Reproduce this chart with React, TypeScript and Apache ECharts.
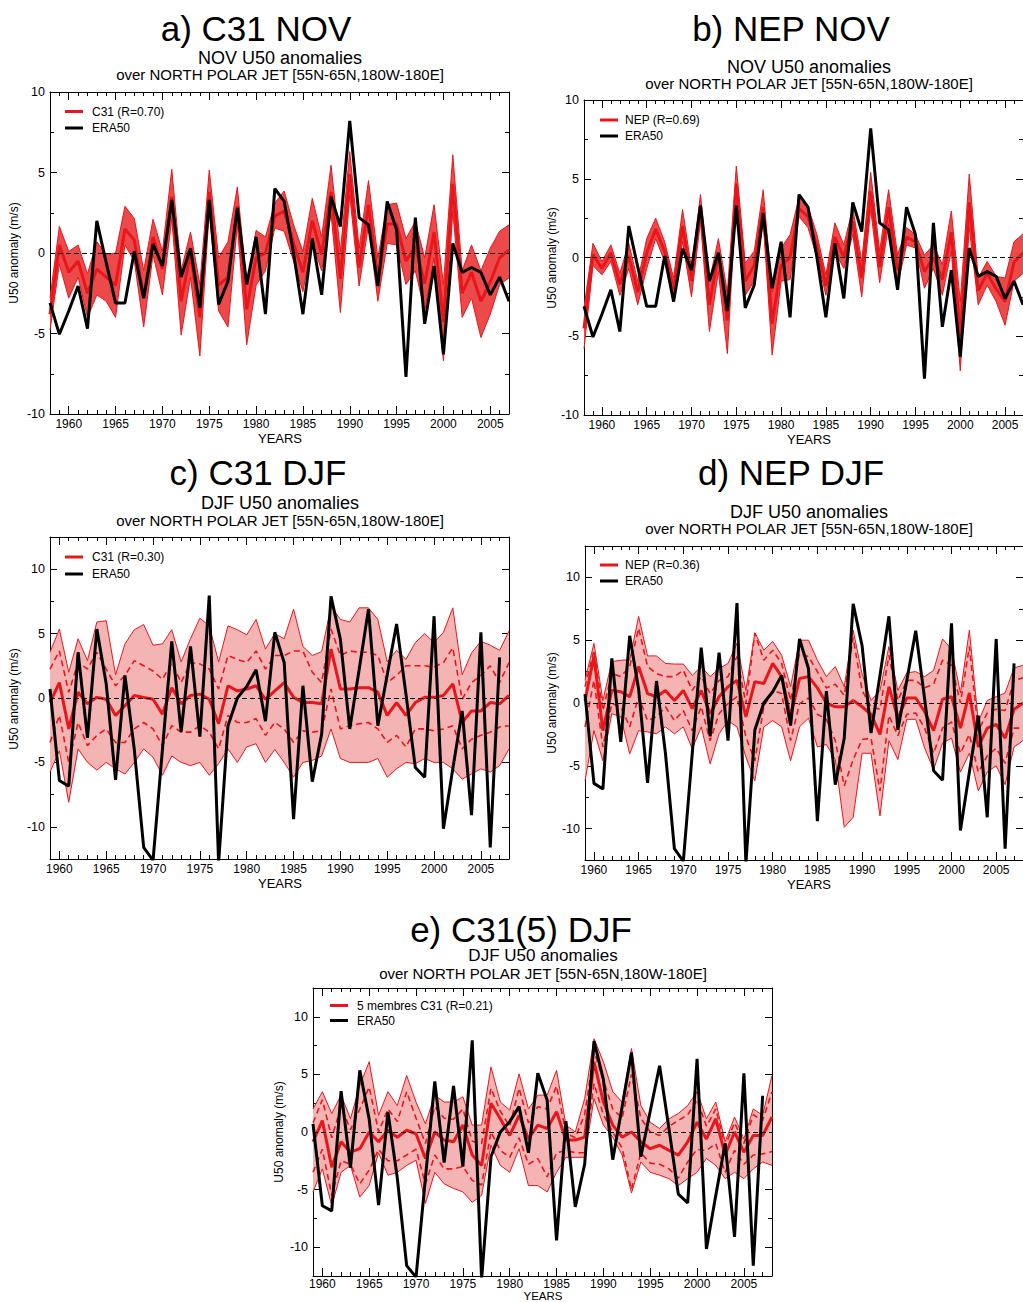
import React, { useEffect, useRef } from 'react';
import * as echarts from 'echarts';

const FONT = '"Liberation Sans", Arial, Helvetica, sans-serif';
const RED = '#e8161b';

function yearRange(start: number, n: number): number[] {
  const a: number[] = [];
  for (let i = 0; i < n; i++) a.push(start + i);
  return a;
}
const YEARS_NOV = yearRange(1958, 50);
const YEARS_DJF = yearRange(1959, 50);
const X_LABELS = [1960, 1965, 1970, 1975, 1980, 1985, 1990, 1995, 2000, 2005];
const Y_LABELS = [-10, -5, 0, 5, 10];

// ERA50 reanalysis
const ERA_NOV = [-3.1, -5.05, -3.6, -2.05, -4.7, 2.0, -0.6, -3.1, -3.1, 0.1, -2.8, 0.55, -0.8, 3.3, -1.5, 0.3, -3.4, 3.3, -3.2, -1.75, 2.8, -1.95, 1.0, -3.8, 4.0, 3.2, 0.0, -3.8, 0.9, -2.6, 3.5, 1.65, 8.2, 2.2, 1.75, -2.05, 3.2, 1.45, -7.7, 2.2, -4.4, -0.8, -6.3, 0.6, -1.2, -0.9, -1.2, -2.6, -1.5, -3.0];
const ERA_DJF = [0.7, -6.4, -6.85, 3.55, -3.1, 5.35, 1.1, -6.35, 1.75, -4.0, -11.6, -12.6, -4.0, 4.4, -2.65, 4.0, -3.0, 7.95, -12.8, -2.15, 0.0, 0.9, 2.2, -1.8, 5.1, 2.75, -9.4, 0.95, -6.5, -2.8, 7.9, 4.55, -2.4, 2.2, 6.9, -2.15, 1.8, 5.75, 0.3, -5.4, -6.15, 6.35, -10.15, -5.5, -1.0, -9.1, 5.1, -11.6, 3.15, null];

// a) C31 NOV
const A_UP = [-2.8, 1.65, 0.1, 0.5, -1.3, 0.7, -0.1, 0.0, 2.9, 2.15, -1.1, 2.1, 0.1, 5.2, -1.1, 1.3, -1.95, 5.15, -0.3, 0.7, 4.1, -1.95, 1.4, 1.0, 3.1, 3.85, 1.75, 0.1, 3.4, 1.0, 5.45, 0.1, 6.3, 0.3, 4.5, -0.3, 3.0, 3.1, 0.9, 1.95, -0.3, 3.0, -1.95, 6.1, -1.1, 0.5, -1.1, 0.3, 1.35, 1.75];
const A_LO = [-4.8, -0.7, -2.8, -1.5, -4.0, -2.6, -3.0, -4.0, 0.5, -0.5, -4.6, -0.1, -2.6, 2.1, -5.1, -1.5, -6.4, 2.6, -3.6, -4.6, 1.75, -5.7, -2.0, -1.1, 1.55, 1.35, -0.5, -2.4, 0.7, -1.1, 2.45, -3.7, 3.6, -2.05, 1.75, -3.0, 0.6, 0.5, -1.95, -1.1, -3.6, -0.3, -6.7, 2.6, -4.0, -2.8, -5.25, -3.8, -1.95, -1.55];
const A_MEAN = [-3.8, 0.5, -1.2, -0.5, -2.5, -1.0, -1.5, -2.0, 1.5, 0.8, -2.8, 1.0, -1.0, 3.5, -3.0, 0.0, -4.0, 3.8, -2.0, -1.5, 2.9, -3.5, -0.3, 0.0, 2.3, 2.6, 0.6, -1.2, 2.0, -0.1, 3.8, -1.6, 4.9, -0.9, 3.0, -1.6, 1.8, 1.8, -0.5, 0.4, -1.9, 1.3, -4.3, 4.3, -2.5, -1.2, -3.0, -1.8, -0.3, 0.2];

// b) NEP NOV
const B_UP = [-3.2, 0.9, -0.25, 0.8, -1.0, 0.9, -1.5, 1.2, 2.5, 1.0, -1.3, 3.05, -0.7, 4.0, -1.5, 1.2, -2.2, 5.8, -0.35, 0.4, 4.3, -2.2, 0.6, 1.45, 3.8, 3.25, 1.45, -1.1, 2.2, 0.8, 3.15, -0.25, 5.4, 0.4, 4.3, 0.15, 1.9, 1.45, 0.15, 0.8, -0.45, 2.95, -2.8, 5.3, -1.3, -0.25, -1.2, -1.3, 1.0, 1.5];
const B_LO = [-5.8, -0.5, -1.1, -0.25, -2.4, -0.7, -3.0, -0.7, 1.2, -0.25, -2.8, 1.0, -2.5, 2.3, -4.7, -0.9, -6.1, 3.8, -2.4, -1.5, 2.3, -6.2, -1.5, -1.4, 2.6, 1.9, 0.0, -2.4, 0.4, -0.7, 1.45, -2.5, 3.05, -1.6, 2.1, -1.75, 0.8, 0.6, -1.95, -0.7, -2.4, 0.4, -7.2, 1.9, -3.0, -1.75, -2.8, -4.3, -1.5, -1.0];
const B_MEAN = [-4.5, 0.2, -0.7, 0.3, -1.7, 0.1, -2.2, 0.3, 1.8, 0.4, -2.0, 2.0, -1.5, 3.1, -3.0, 0.2, -4.0, 4.7, -1.5, -0.5, 3.2, -4.2, -0.5, 0.0, 3.1, 2.6, 0.7, -1.8, 1.3, 0.0, 2.3, -1.3, 4.2, -0.6, 3.2, -0.8, 1.3, 1.0, -0.9, 0.0, -1.4, 1.6, -5.0, 3.5, -2.1, -1.0, -2.0, -2.8, -0.3, 0.3];

// c) C31 DJF
const C_UP = [3.55, 5.35, 2.0, 4.6, 2.9, 5.9, 6.0, 1.8, 4.2, 5.3, 5.7, 4.1, 4.2, 5.3, 2.8, 4.6, 6.2, 5.6, 2.8, 5.6, 5.3, 4.9, 6.1, 3.8, 5.0, 4.6, 6.9, 4.0, 3.3, 3.6, 7.1, 6.1, 5.9, 7.0, 7.0, 6.1, 2.8, 3.7, 3.0, 4.3, 5.0, 4.3, 5.1, 7.0, 1.8, 3.5, 4.4, 4.1, 3.7, 5.2];
const C_LO = [-5.75, -4.1, -8.1, -3.95, -5.0, -5.6, -5.0, -5.5, -5.9, -5.0, -3.95, -4.6, -6.0, -4.5, -5.0, -5.25, -5.0, -6.0, -5.1, -3.95, -5.0, -3.8, -3.55, -5.0, -4.0, -5.0, -6.15, -5.0, -4.85, -4.5, -2.4, -4.7, -5.0, -5.0, -5.0, -4.7, -6.15, -5.5, -5.0, -5.1, -4.7, -5.0, -5.0, -5.5, -6.3, -5.9, -5.5, -5.75, -5.25, -3.95];
const C_DU = [2.25, 3.65, 0.45, 2.75, 2.25, 3.55, 2.25, 0.95, 1.75, 2.9, 2.5, 2.1, 1.45, 2.75, 1.2, 2.75, 2.65, 2.25, 0.7, 3.3, 3.0, 2.75, 3.65, 2.25, 3.3, 3.3, 3.65, 3.65, 2.0, 1.2, 5.35, 3.3, 3.65, 3.55, 3.55, 3.3, 1.2, 1.75, 2.5, 2.5, 2.5, 2.4, 2.75, 3.9, -0.1, 1.2, 1.75, 2.5, 1.2, 2.75];
const C_DL = [-3.45, -1.35, -5.0, -1.9, -3.7, -2.9, -2.4, -3.45, -3.45, -2.4, -1.9, -2.4, -3.7, -2.15, -2.65, -2.65, -2.15, -2.65, -3.95, -1.35, -1.9, -1.9, -1.6, -2.9, -1.9, -2.4, -3.45, -2.55, -2.65, -2.55, 0.7, -2.4, -2.15, -2.0, -1.9, -2.4, -3.45, -2.9, -3.8, -2.4, -2.4, -2.55, -2.4, -2.15, -3.95, -3.2, -2.9, -2.65, -2.25, -2.15];
const C_MEAN = [-0.35, 1.2, -2.4, 0.45, -0.45, 0.05, -0.1, -1.35, -0.6, 0.2, 0.05, -0.1, -1.25, 0.8, -0.45, 0.2, 0.3, -0.1, -2.0, 0.95, 0.55, 0.7, 0.95, -0.1, 0.55, 1.2, 0.05, -0.35, -0.35, -0.45, 3.8, 0.7, 0.7, 0.8, 0.8, 0.45, -1.35, -0.35, -1.35, -0.35, 0.05, 0.05, 0.2, 1.1, -1.9, -1.0, -1.0, -0.35, -0.45, 0.2];

// d) NEP DJF
const D_UP = [1.8, 4.75, 0.2, 3.3, 3.4, 3.45, 6.9, 3.75, 3.75, 3.15, 3.1, 3.1, 2.2, 2.9, 2.1, 2.75, 3.15, 4.75, 1.0, 5.6, 4.2, 4.9, 3.8, 1.3, 5.0, 5.0, 3.4, 2.1, 2.9, 1.3, 5.8, 2.3, 0.2, 1.0, 4.5, 1.0, 2.4, 2.5, 2.1, 2.6, 5.1, 4.3, 0.8, 5.8, -1.5, 0.2, 0.5, 0.8, 2.8, 3.0];
const D_LO = [-6.2, -2.2, -4.6, -0.85, -1.1, -4.05, -2.2, -2.3, -2.45, -1.9, -2.45, -1.9, -3.65, -1.9, -4.85, -2.45, -1.4, -1.9, -4.3, -6.2, -1.9, -1.4, -1.9, -4.6, -1.9, -1.2, -3.5, -3.3, -4.5, -9.9, -9.1, -4.0, -4.0, -9.0, -3.0, -4.5, -1.3, -1.3, -3.6, -5.3, -3.2, -2.8, -5.5, -4.0, -7.0, -5.5, -5.0, -6.5, -3.5, -3.0];
const D_DU = [1.3, 4.2, -0.6, 2.35, 2.1, 2.9, 5.95, 2.9, 2.35, 2.1, 2.1, 2.6, 1.0, 2.1, 0.75, 1.8, 2.1, 3.7, -0.05, 5.55, 3.4, 4.2, 3.15, 0.2, 3.95, 3.7, 2.5, 1.2, 1.5, 0.6, 5.2, 1.0, -0.3, -0.5, 3.8, 0.2, 1.8, 1.8, 1.2, 1.5, 3.4, 3.0, 0.0, 4.5, -2.2, -0.8, -0.5, -0.6, 1.8, 2.0];
const D_DL = [-1.9, 1.8, -3.5, -0.05, -0.3, -1.9, 0.5, -1.4, -1.1, -0.3, -1.4, -0.6, -2.2, -0.3, -3.0, -0.85, -0.05, 0.5, -2.7, -4.6, -0.3, 1.0, 0.75, -3.0, -0.05, 0.4, -0.9, -1.3, -3.0, -6.6, -4.5, -2.9, -2.8, -7.0, -1.0, -2.6, -0.9, -0.8, -2.0, -4.0, -2.0, -1.5, -4.0, -2.5, -5.5, -4.2, -3.6, -4.8, -2.0, -2.0];
const D_MEAN = [0.2, 3.7, -2.2, 1.0, 0.9, 0.5, 2.9, 0.75, 0.5, 1.0, 0.2, 1.0, -0.45, 1.0, -0.85, 0.5, 1.3, 1.8, -1.1, 1.7, 1.55, 3.15, 2.1, -1.1, 1.95, 2.1, 1.2, 0.0, -0.3, -0.3, 0.2, -0.3, -0.9, -2.5, 1.3, -1.2, 0.4, 0.4, -0.7, -2.2, 0.3, 0.5, -2.0, 0.8, -3.5, -2.0, -1.7, -2.8, -0.5, 0.0];

// e) C31(5) DJF
const E_UP = [2.0, 3.5, 1.6, 3.2, 1.15, 4.05, 6.1, 1.45, 3.5, 2.3, 4.9, 2.6, 0.7, 3.2, 2.6, 2.6, 3.05, 0.6, 0.6, 5.65, 2.6, 1.9, 5.05, 2.0, 3.2, 3.2, 5.35, 0.6, 0.0, 2.9, 8.1, 6.1, 3.5, 2.6, 7.25, 2.3, 0.85, 0.3, 1.15, 1.6, 2.3, 3.5, 1.15, 2.6, -0.85, 1.3, -0.6, 2.0, 1.45, 4.9];
const E_LO = [-5.2, -3.2, -6.4, -3.5, -2.9, -5.65, -4.65, -1.8, -3.75, -3.5, -2.9, -2.45, -6.2, -3.5, -4.5, -4.9, -5.2, -6.1, -5.5, -1.15, -2.9, -3.5, -1.45, -4.65, -4.65, -5.2, -3.5, -2.2, -2.2, -2.2, 2.9, 0.6, -0.45, -2.0, -5.3, -2.6, -3.5, -3.75, -4.05, -4.65, -4.05, -3.5, -2.3, -2.9, -4.05, -3.5, -4.05, -3.2, -2.6, -2.9];
const E_DU = [0.8, 2.8, -0.5, 2.2, 0.2, 2.0, 3.9, 0.0, 2.0, 0.9, 3.5, 1.2, -1.0, 2.2, 1.2, 1.1, 2.0, -0.8, -1.0, 3.8, 1.8, 0.5, 3.8, 0.8, 2.2, 2.0, 4.0, -0.1, -0.5, 1.5, 7.0, 4.5, 2.0, 1.2, 5.0, 1.2, 0.0, -0.3, 0.5, 1.0, 1.5, 2.8, 0.5, 2.0, -1.2, 0.8, -1.0, 1.5, 1.0, 3.5];
const E_DL = [-3.5, -1.5, -5.5, -2.5, -2.8, -4.5, -3.3, -1.5, -2.5, -2.5, -2.0, -1.5, -4.5, -2.0, -3.2, -3.2, -3.0, -4.2, -4.6, 0.0, -1.6, -2.2, -0.5, -2.8, -2.3, -3.9, -1.8, -1.6, -1.8, -1.8, 4.2, 1.5, 0.0, -1.4, -5.0, -1.8, -2.7, -2.8, -3.2, -4.0, -2.6, -1.5, -1.6, -1.0, -3.5, -1.6, -2.8, -2.0, -1.9, -1.7];
const E_MEAN = [-0.85, 1.0, -3.05, -0.85, -1.75, -1.45, 0.0, -0.85, 0.15, -0.45, 0.15, -0.15, -2.3, 0.0, -0.7, -0.85, 0.6, -2.0, -2.9, 2.5, 1.15, -0.3, 1.45, -0.6, 0.6, 0.3, 1.75, -0.7, -0.7, -0.45, 6.1, 2.6, 0.6, -0.45, 0.0, -0.85, -1.45, -1.15, -1.6, -2.0, -0.85, 0.85, -0.6, 1.15, -2.0, 0.0, -1.75, -0.3, -0.3, 1.3];

type Panel = {
  grid: { left: number; top: number; width: number; height: number };
  xMin: number; xMax: number; yMin: number; yMax: number;
  years: number[]; era: (number | null)[];
  up: number[]; lo: number[]; mean: number[]; du?: number[]; dl?: number[];
  band: string;
  title: string; sub1: string; legend: string;
  titlePos: [number, number]; sub1Pos: [number, number]; sub2Pos: [number, number];
  sub1Size: number;
  yearsPos: [number, number]; yNamePos: [number, number]; yearsSize: number; xLabelMargin: number;
  legX: number; legTextX: number; legY1: number; legY2: number;
};

const SUB2 = 'over NORTH POLAR JET [55N-65N,180W-180E]';

const PANELS: Panel[] = [
  {
    grid: { left: 50, top: 92, width: 459, height: 322 }, xMin: 1958, xMax: 2007, yMin: -10, yMax: 10,
    years: YEARS_NOV, era: ERA_NOV, up: A_UP, lo: A_LO, mean: A_MEAN, band: '#ec4a4a',
    title: 'a) C31 NOV', sub1: 'NOV U50 anomalies', legend: 'C31 (R=0.70)',
    titlePos: [256, 28], sub1Pos: [280, 58], sub2Pos: [280, 74], sub1Size: 18, yearsPos: [280, 438], yNamePos: [14, 253],
    yearsSize: 13, xLabelMargin: 4,
    legX: 65, legTextX: 92, legY1: 111.5, legY2: 128,
  },
  {
    grid: { left: 584, top: 100, width: 449, height: 315 }, xMin: 1958, xMax: 2007, yMin: -10, yMax: 10,
    years: YEARS_NOV, era: ERA_NOV, up: B_UP, lo: B_LO, mean: B_MEAN, band: '#ec4a4a',
    title: 'b) NEP NOV', sub1: 'NOV U50 anomalies', legend: 'NEP (R=0.69)',
    titlePos: [791, 28], sub1Pos: [809, 67], sub2Pos: [809, 83], sub1Size: 18, yearsPos: [809, 439], yNamePos: [552, 258],
    yearsSize: 13, xLabelMargin: 4,
    legX: 600, legTextX: 625, legY1: 120, legY2: 136,
  },
  {
    grid: { left: 50, top: 537, width: 459, height: 322 }, xMin: 1959, xMax: 2008, yMin: -12.5, yMax: 12.5,
    years: YEARS_DJF, era: ERA_DJF, up: C_UP, lo: C_LO, mean: C_MEAN, du: C_DU, dl: C_DL, band: '#f5b4b4',
    title: 'c) C31 DJF', sub1: 'DJF U50 anomalies', legend: 'C31 (R=0.30)',
    titlePos: [258, 472], sub1Pos: [280, 503], sub2Pos: [280, 520], sub1Size: 18, yearsPos: [280, 883], yNamePos: [14, 699],
    yearsSize: 13, xLabelMargin: 4,
    legX: 65, legTextX: 92, legY1: 557, legY2: 574,
  },
  {
    grid: { left: 585, top: 546, width: 448, height: 314 }, xMin: 1959, xMax: 2008, yMin: -12.5, yMax: 12.5,
    years: YEARS_DJF, era: ERA_DJF, up: D_UP, lo: D_LO, mean: D_MEAN, du: D_DU, dl: D_DL, band: '#f5b4b4',
    title: 'd) NEP DJF', sub1: 'DJF U50 anomalies', legend: 'NEP (R=0.36)',
    titlePos: [791, 472], sub1Pos: [809, 512], sub2Pos: [809, 528], sub1Size: 18, yearsPos: [809, 884], yNamePos: [552, 703],
    yearsSize: 13, xLabelMargin: 4,
    legX: 600, legTextX: 625, legY1: 565, legY2: 581,
  },
  {
    grid: { left: 313, top: 988, width: 459, height: 288 }, xMin: 1959, xMax: 2008, yMin: -12.5, yMax: 12.5,
    years: YEARS_DJF, era: ERA_DJF, up: E_UP, lo: E_LO, mean: E_MEAN, du: E_DU, dl: E_DL, band: '#f5b4b4',
    title: 'e) C31(5) DJF', sub1: 'DJF U50 anomalies', legend: '5 membres C31 (R=0.21)',
    titlePos: [521, 929], sub1Pos: [543, 955.5], sub2Pos: [543, 973], sub1Size: 17, yearsPos: [543, 1296], yNamePos: [279, 1132],
    yearsSize: 11.5, xLabelMargin: 2,
    legX: 330, legTextX: 357, legY1: 1005.5, legY2: 1020.5,
  },
];

function buildOption() {
  const grids: any[] = [];
  const xAxes: any[] = [];
  const yAxes: any[] = [];
  const series: any[] = [];
  const graphics: any[] = [];

  const lineCol = { color: '#000', width: 1 };

  PANELS.forEach((p, k) => {
    grids.push({ ...p.grid, show: false, containLabel: false });

    const xBase = { type: 'value', gridIndex: k, min: p.xMin, max: p.xMax, splitLine: { show: false } };
    xAxes.push({ ...xBase, position: 'bottom', interval: 1,
      axisLine: { show: true, onZero: false, lineStyle: lineCol },
      axisTick: { show: true, inside: true, length: 4, lineStyle: lineCol },
      axisLabel: { show: false } });
    xAxes.push({ ...xBase, position: 'bottom',
      axisLine: { show: false, onZero: false },
      axisTick: { show: true, inside: true, length: 8, customValues: X_LABELS, lineStyle: lineCol },
      axisLabel: { show: true, customValues: X_LABELS, fontSize: 12, color: '#000', margin: p.xLabelMargin, fontFamily: FONT,
        formatter: (v: number) => String(Math.round(v)) } });
    xAxes.push({ ...xBase, position: 'top', interval: 1,
      axisLine: { show: true, onZero: false, lineStyle: lineCol },
      axisTick: { show: true, inside: true, length: 4, lineStyle: lineCol },
      axisLabel: { show: false } });
    xAxes.push({ ...xBase, position: 'top',
      axisLine: { show: false, onZero: false },
      axisTick: { show: true, inside: true, length: 8, customValues: X_LABELS, lineStyle: lineCol },
      axisLabel: { show: false } });

    const yBase = { type: 'value', gridIndex: k, min: p.yMin, max: p.yMax, splitLine: { show: false } };
    yAxes.push({ ...yBase, position: 'left', interval: 2.5,
      axisLine: { show: true, onZero: false, lineStyle: lineCol },
      axisTick: { show: true, inside: true, length: 4, lineStyle: lineCol },
      axisLabel: { show: false } });
    yAxes.push({ ...yBase, position: 'left',
      axisLine: { show: false, onZero: false },
      axisTick: { show: true, inside: true, length: 7, customValues: Y_LABELS, lineStyle: lineCol },
      axisLabel: { show: true, customValues: Y_LABELS, fontSize: 12.5, color: '#000', margin: 5, fontFamily: FONT,
        formatter: (v: number) => String(v) } });
    yAxes.push({ ...yBase, position: 'right', interval: 2.5,
      axisLine: { show: true, onZero: false, lineStyle: lineCol },
      axisTick: { show: true, inside: true, length: 4, lineStyle: lineCol },
      axisLabel: { show: false } });
    yAxes.push({ ...yBase, position: 'right',
      axisLine: { show: false, onZero: false },
      axisTick: { show: true, inside: true, length: 7, customValues: Y_LABELS, lineStyle: lineCol },
      axisLabel: { show: false } });

    const xi = 4 * k;
    const yi = 4 * k;

    series.push({
      type: 'custom', xAxisIndex: xi, yAxisIndex: yi, silent: true, z: 1,
      data: [[p.years[0], 0]],
      renderItem: (_params: any, api: any) => {
        const pts: number[][] = [];
        for (let i = 0; i < p.years.length; i++) pts.push(api.coord([p.years[i], p.up[i]]));
        for (let i = p.years.length - 1; i >= 0; i--) pts.push(api.coord([p.years[i], p.lo[i]]));
        return { type: 'polygon', shape: { points: pts }, style: { fill: p.band, stroke: null } };
      },
    });

    const mk = (vals: (number | null)[], style: any, z: number, extra: any = {}) => ({
      type: 'line', xAxisIndex: xi, yAxisIndex: yi, silent: true, z,
      showSymbol: false, symbol: 'none', connectNulls: false,
      data: p.years.map((yr, i) => [yr, vals[i] === null || vals[i] === undefined ? '-' : vals[i]]),
      lineStyle: style, ...extra,
    });

    series.push(mk(p.up, { color: RED, width: 1 }, 2));
    series.push(mk(p.lo, { color: RED, width: 1 }, 2));
    if (p.du && p.dl) {
      series.push(mk(p.du, { color: RED, width: 1.6, type: [6, 4] }, 2));
      series.push(mk(p.dl, { color: RED, width: 1.6, type: [6, 4] }, 2));
    }
    series.push(mk(p.mean, { color: RED, width: 3 }, 3));
    series.push(mk(p.era, { color: '#000', width: 3 }, 4, {
      markLine: {
        silent: true, symbol: ['none', 'none'], label: { show: false },
        lineStyle: { color: '#000', width: 1, type: [5, 3] },
        data: [{ yAxis: 0 }],
      },
    }));

    const txt = (text: string, pos: [number, number], size: number, extra: any = {}) => ({
      type: 'text', x: pos[0], y: pos[1], silent: true, ...extra,
      style: { text, fontSize: size, fontFamily: FONT, fill: '#000', align: 'center', verticalAlign: 'middle' },
    });
    graphics.push(txt(p.title, p.titlePos, 35));
    graphics.push(txt(p.sub1, p.sub1Pos, p.sub1Size));
    graphics.push(txt(SUB2, p.sub2Pos, 15));
    graphics.push(txt('YEARS', p.yearsPos, p.yearsSize));
    graphics.push(txt('U50 anomaly (m/s)', p.yNamePos, 12, { rotation: Math.PI / 2 }));

    graphics.push({ type: 'line', silent: true, shape: { x1: p.legX, y1: p.legY1, x2: p.legX + 18, y2: p.legY1 }, style: { stroke: RED, lineWidth: 3 } });
    graphics.push({ type: 'line', silent: true, shape: { x1: p.legX, y1: p.legY2, x2: p.legX + 18, y2: p.legY2 }, style: { stroke: '#000', lineWidth: 3 } });
    graphics.push({ type: 'text', x: p.legTextX, y: p.legY1, silent: true, style: { text: p.legend, fontSize: 12, fontFamily: FONT, fill: '#000', align: 'left', verticalAlign: 'middle' } });
    graphics.push({ type: 'text', x: p.legTextX, y: p.legY2, silent: true, style: { text: 'ERA50', fontSize: 12, fontFamily: FONT, fill: '#000', align: 'left', verticalAlign: 'middle' } });
  });

  return {
    animation: false,
    backgroundColor: '#fff',
    textStyle: { fontFamily: FONT },
    grid: grids,
    xAxis: xAxes,
    yAxis: yAxes,
    series,
    graphic: graphics,
  };
}

export default function App() {
  const ref = useRef<HTMLDivElement>(null);
  useEffect(() => {
    if (!ref.current) return;
    const chart = echarts.init(ref.current, undefined, { renderer: 'svg' });
    chart.setOption(buildOption() as any);
    return () => chart.dispose();
  }, []);
  return (
    <div
      ref={ref}
      style={{ position: 'absolute', left: 0, top: 0, width: 1023, height: 1302, background: '#fff', overflow: 'hidden' }}
    />
  );
}
